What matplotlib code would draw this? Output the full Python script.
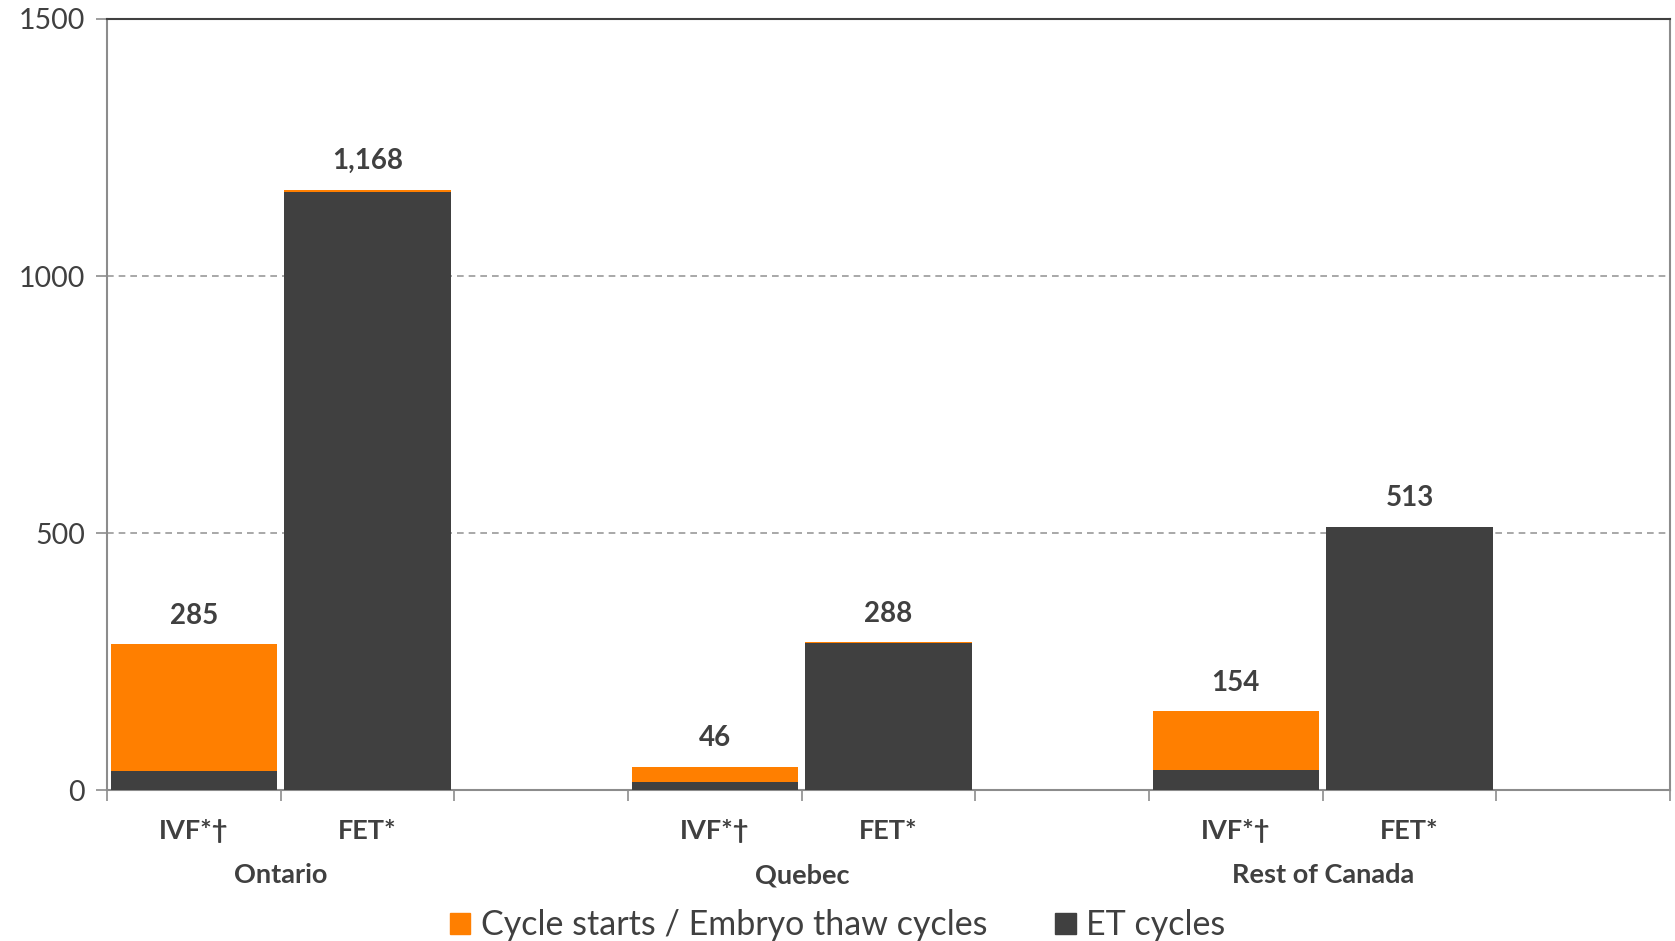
import matplotlib
matplotlib.use('Agg')
import matplotlib.pyplot as plt
from matplotlib.patches import Patch
from matplotlib.transforms import blended_transform_factory

plt.rcParams['font.family'] = ['Lato', 'DejaVu Sans']

regions = ['Ontario', 'Quebec', 'Rest of Canada']
bar_names = ['IVF*\u2020', 'FET*']
totals = [285, 1168, 46, 288, 154, 513]
et_cycles = [37, 1164, 17, 286, 39, 512]
total_labels = ['285', '1,168', '46', '288', '154', '513']

orange = '#FF7F00'
dark = '#404040'
grey = '#8C8C8C'

fig = plt.figure(figsize=(16.75, 9.41), dpi=100)
ax = fig.add_axes([0.064, 0.16, 0.933, 0.82])

# two bars per region, an empty slot after each region
xs = []
for i in range(len(regions)):
    xs += [3 * i, 3 * i + 1]
starts = [t - e for t, e in zip(totals, et_cycles)]

ax.bar(xs, et_cycles, width=0.96, color=dark, zorder=3)
ax.bar(xs, starts, bottom=et_cycles, width=0.96, color=orange, zorder=3)

for x, t, lab in zip(xs, totals, total_labels):
    ax.annotate(lab, (x, t), xytext=(0, 11), textcoords='offset points',
                ha='center', va='bottom', fontsize=20, fontweight='bold', color=dark)

ax.set_xlim(-0.5, 8.5)
ax.set_ylim(0, 1500)
ax.set_yticks([0, 500, 1000, 1500])
ax.set_yticklabels(['0', '500', '1000', '1500'])
ax.tick_params(axis='y', labelsize=20.5, labelcolor=dark, color=grey, length=8, width=1.2, pad=8)
ax.set_xticks([i - 0.5 for i in range(10)])
ax.set_xticklabels([])
ax.tick_params(axis='x', color=grey, length=8, width=1.2)

for y in [500, 1000]:
    ax.axhline(y, color='#999999', linestyle=(0, (4, 3)), linewidth=1.2, zorder=1)

ax.spines['left'].set_color(grey)
ax.spines['right'].set_color(grey)
ax.spines['bottom'].set_color(grey)
ax.spines['top'].set_color(dark)
for s in ax.spines.values():
    s.set_linewidth(1.5)

trans = blended_transform_factory(ax.transData, ax.transAxes)
for x, i in zip(xs, range(len(xs))):
    ax.text(x, -0.053, bar_names[i % 2], transform=trans, ha='center', va='center',
            fontsize=19.5, fontweight='bold', color=dark)
for i, r in enumerate(regions):
    ax.text(3 * i + 0.5, -0.11, r, transform=trans, ha='center', va='center',
            fontsize=19.5, fontweight='bold', color=dark)

handles = [Patch(color=orange), Patch(color=dark)]
fig.legend(handles, ['Cycle starts / Embryo thaw cycles', 'ET cycles'],
           loc='lower center', bbox_to_anchor=(0.5, -0.033), ncol=2, frameon=False,
           fontsize=24.5, handlelength=0.6, handleheight=0.6, handletextpad=0.3,
           columnspacing=2.0, labelcolor=dark)

fig.savefig('out.png', dpi=100)
